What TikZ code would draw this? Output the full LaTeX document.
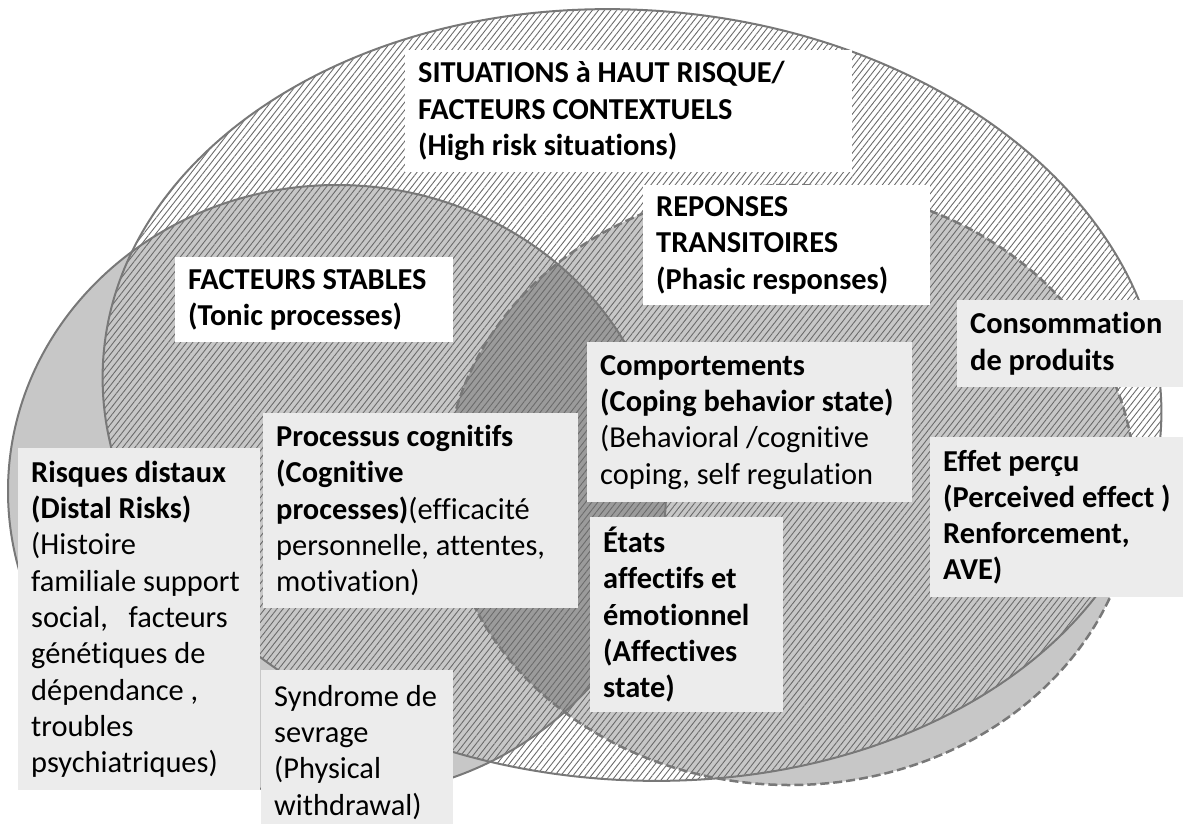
\documentclass[tikz,border=0pt]{standalone}
\usepackage{fontspec}
\setmainfont{Carlito}[Ligatures=NoCommon]
\usetikzlibrary{patterns.meta}

\definecolor{rim}{gray}{0.47}
\definecolor{hatch}{gray}{0.42}
\definecolor{boxgray}{gray}{0.925}

\tikzset{
    zone/.style={fill=black, fill opacity=0.22},
    rimline/.style={draw=rim, line width=2pt},
    txtbox/.style={anchor=north west, inner xsep=0pt, inner ysep=0pt, align=left,
        font=\fontsize{30.4}{36.3}\selectfont,
        execute at begin node={\leftskip=13pt \rightskip=0pt plus 1fil \spaceskip=0pt \xspaceskip=0pt}},
    whitebox/.style={txtbox, fill=white},
    graybox/.style={txtbox, fill=boxgray}
}

\begin{document}
\begin{tikzpicture}[x=1pt, y=-1pt]
        \useasboundingbox (0,0) rectangle (1183,823);
        % stable factors and phasic responses
        \fill[zone] (337,491) ellipse [x radius=329, y radius=306];
        \fill[zone] (790,485) ellipse [x radius=345, y radius=300];
        % high risk situations
        \path[pattern={Lines[angle=52, distance=4.8pt, line width=0.9pt]}, pattern color=hatch,
            rotate around={-4:(632,395)}] (632,395) ellipse [x radius=530, y radius=385];
        \draw[rimline] (337,491) ellipse [x radius=329, y radius=306];
        \draw[rimline, rotate around={-4:(632,395)}] (632,395) ellipse [x radius=530, y radius=385];
        \draw[rimline, line width=2.5pt, dash pattern=on 9pt off 4pt] (790,485) ellipse [x radius=345, y radius=300];

        \node[whitebox, text width=447pt, minimum height=122pt] (situations) at (405,50)
            {\textbf{SITUATIONS à HAUT RISQUE/}\\ \textbf{FACTEURS CONTEXTUELS}\\ \textbf{(High risk situations)}};
        \node[whitebox, text width=287pt, minimum height=120pt] (reponses) at (643,185)
            {\textbf{REPONSES}\\ \textbf{TRANSITOIRES}\\ \textbf{(Phasic responses)}};
        \node[whitebox, text width=278pt, minimum height=85pt] (stables) at (175,257)
            {\textbf{FACTEURS STABLES}\\ \textbf{(Tonic processes)}};
        \node[graybox, text width=226pt, minimum height=87pt] (conso) at (957,300)
            {\textbf{Consommation}\\ \textbf{de produits}};
        \node[graybox, text width=325pt, minimum height=160pt] (coping) at (587,342)
            {\textbf{Comportements}\\ \textbf{(Coping behavior state)}\\ (Behavioral /cognitive\\ coping, self regulation};
        \node[graybox, text width=253pt, minimum height=160pt] (effet) at (930,437)
            {\textbf{Effet perçu}\\ \textbf{(Perceived effect )}\\ \textbf{Renforcement,}\\ \textbf{AVE)}};
        \node[graybox, text width=193pt, minimum height=195pt] (etats) at (590,517)
            {\textbf{États}\\ \textbf{affectifs et}\\ \textbf{émotionnel}\\ \textbf{(Affectives}\\ \textbf{state)}};
        \node[graybox, text width=315pt, minimum height=195pt] (cognitif) at (263,413)
            {\textbf{Processus cognitifs}\\ \textbf{(Cognitive}\\ \textbf{processes)}(efficacité\\ personnelle, attentes,\\ motivation)};
        \node[graybox, text width=242pt, minimum height=342pt] (distaux) at (18,448)
            {\textbf{Risques distaux}\\ \textbf{(Distal Risks)}\\ (Histoire\\ familiale support\\ social,\ \ \ facteurs\\ génétiques de\\ dépendance ,\\ troubles\\ psychiatriques)};
        \node[graybox, text width=192pt, minimum height=164pt] (sevrage) at (261,670)
            {Syndrome de\\ sevrage\\ (Physical\\ withdrawal)};
    \end{tikzpicture}
\end{document}
